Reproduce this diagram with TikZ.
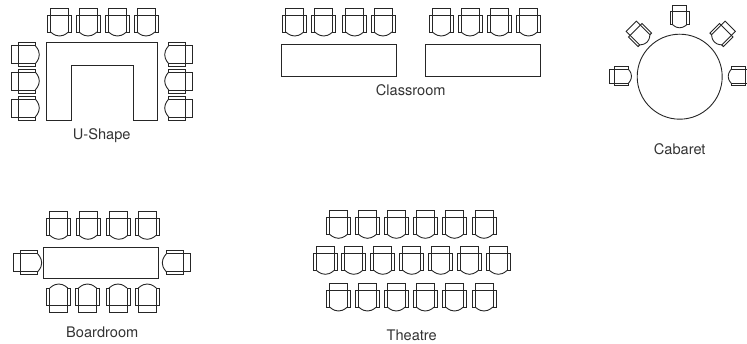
\documentclass[tikz,border=0pt]{standalone}
\usepackage{fontspec}
\setmainfont{TeX Gyre Heros}
\tikzset{
  ink/.style={draw=black!85,line width=0.9pt,line join=miter},
  tablebox/.style={ink,fill=none},
  caption/.style={font=\fontsize{14.6}{17}\selectfont,text=black!80,inner sep=0pt,anchor=center},
  chair/.pic={
    \draw[ink] (-9,0) -- (-9,-7) -- (9,-7) -- (9,0);
    \draw[ink] (-12,0) rectangle (-9,17);
    \draw[ink] (9,0) rectangle (12,17);
    \draw[ink] (-9,0) -- (9,0);
    \draw[ink] (-9,17) .. controls (-5,20.5) and (-2,21) .. (0,21) .. controls (2,21) and (5,20.5) .. (9,17);
  }
}
\begin{document}
\begin{tikzpicture}[x=1pt,y=-1pt]
\useasboundingbox (0,0) rectangle (747,344);
% U-Shape
\draw[tablebox] (46.3,42.7) -- (157.7,42.7) -- (157.7,120) -- (133.3,120) -- (133.3,65.7) -- (71,65.7) -- (71,120) -- (46.3,120) -- cycle;
\foreach \x in {59.5,88,117.5,146} \pic at (\x,15) {chair};
\foreach \y in {54.7,81,108} \pic[rotate=90] at (18.3,\y) {chair};
\foreach \y in {54.7,81,108} \pic[rotate=-90] at (185.7,\y) {chair};
\node[caption] (ushape) at (101.7,136) {U-Shape};
% Classroom
\draw[tablebox] (281.7,44.7) rectangle (396,76);
\draw[tablebox] (425.7,44.7) rectangle (540,76);
\foreach \x in {294.7,323.7,354.7,383,441.3,470,499.5,528.5} \pic at (\x,15) {chair};
\node[caption] (classroom) at (410.7,90) {Classroom};
% Cabaret
\draw[ink] (679.7,76.7) circle (42.5);
\pic[scale=0.8] at (679.7,11) {chair};
\pic[scale=0.8,rotate=90] at (614.7,76.3) {chair};
\pic[scale=0.8,rotate=-90] at (745,76.3) {chair};
\pic[scale=0.8,rotate=45] at (635.2,30.2) {chair};
\pic[scale=0.8,rotate=-45] at (726.3,30.2) {chair};
\node[caption] (cabaret) at (679.7,149) {Cabaret};
% Boardroom
\draw[tablebox] (43.3,247.7) rectangle (158.3,278.3);
\foreach \x in {58.8,88,118.8,147.2} \pic at (\x,218.3) {chair};
\foreach \x in {58.8,87.5,118,147.3} \pic[rotate=180] at (\x,305) {chair};
\pic[rotate=90] at (20.7,262.8) {chair};
\pic[rotate=-90] at (183.3,262.8) {chair};
\node[caption] (boardroom) at (102.3,332.7) {Boardroom};
% Theatre
\foreach \x in {338.5,367.5,396.3,425.3,454.5,484} {
  \pic at (\x,217.3) {chair};
  \pic at (\x,290) {chair};
}
\foreach \x in {325.3,353.8,382.8,411.8,440.8,469.5,498.3} \pic at (\x,253.3) {chair};
\node[caption] (theatre) at (411.7,335) {Theatre};
\end{tikzpicture}
\end{document}
